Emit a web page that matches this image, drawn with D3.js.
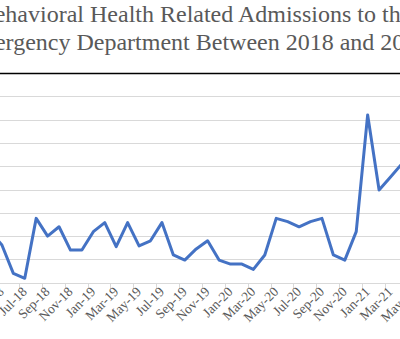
<!DOCTYPE html>
<html>
<head>
<meta charset="utf-8">
<script src="https://cdn.jsdelivr.net/npm/d3@7"></script>
<style>
  body { margin: 0; background: #fff; overflow: hidden; }
  svg { display: block; }
</style>
</head>
<body>
<div id="chart"></div>
<script>
// months shown (Apr-18 and May-21 sit just outside the visible crop)
var months = ["Apr-18","May-18","Jun-18","Jul-18","Aug-18","Sep-18","Oct-18","Nov-18","Dec-18",
              "Jan-19","Feb-19","Mar-19","Apr-19","May-19","Jun-19","Jul-19","Aug-19","Sep-19","Oct-19","Nov-19","Dec-19",
              "Jan-20","Feb-20","Mar-20","Apr-20","May-20","Jun-20","Jul-20","Aug-20","Sep-20","Oct-20","Nov-20","Dec-20",
              "Jan-21","Feb-21","Mar-21","Apr-21","May-21"];
var admissions = [22, 16.2, 4.0, 1.9, 27.6, 20.0, 24.0, 14.0, 14.0,
                  21.9, 25.8, 15.5, 25.8, 15.8, 18.0, 25.8, 11.9, 9.7, 14.5, 18.0, 9.7,
                  8.0, 8.0, 5.7, 11.9, 27.6, 26.2, 24.0, 26.2, 27.6, 11.9, 9.7, 21.9,
                  72.0, 39.8, 45.4, 51, 53];
var yTicks = [0, 10, 20, 30, 40, 50, 60, 70, 80];
var titleLines = ["Behavioral Health Related Admissions to the",
                  "Emergency Department Between 2018 and 2021"];

var W = 400, H = 339;

var svg = d3.select("#chart").append("svg")
    .attr("width", W)
    .attr("height", H);

svg.append("rect").attr("width", W).attr("height", H).attr("fill", "#fff");

var x = d3.scaleLinear().domain([0, months.length - 1]).range([-9.53, -9.53 + 11.43 * (months.length - 1)]);
var y = d3.scaleLinear().domain([0, 90]).range([282.7, 73]);

// title
svg.append("g").selectAll("text")
    .data(titleLines)
    .enter()
    .append("text")
    .attr("x", 195)
    .attr("y", function (d, i) { return 21.7 + i * 28.3; })
    .attr("text-anchor", "middle")
    .attr("font-family", "'Liberation Serif', 'Times New Roman', serif")
    .attr("font-size", 24)
    .attr("fill", "#595959")
    .text(function (d) { return d; });

// gridlines
svg.append("g").selectAll("line")
    .data(yTicks.slice(1))
    .enter()
    .append("line")
    .attr("x1", 0).attr("x2", W)
    .attr("y1", function (d) { return Math.round(y(d)) + 0.5; })
    .attr("y2", function (d) { return Math.round(y(d)) + 0.5; })
    .attr("stroke", "#d9d9d9")
    .attr("stroke-width", 1);

// dark rule on top
svg.append("line")
    .attr("x1", 0).attr("x2", W)
    .attr("y1", Math.round(y(90)) + 0.5).attr("y2", Math.round(y(90)) + 0.5)
    .attr("stroke", "#000")
    .attr("stroke-width", 1.3);

// x axis
var labelIdx = d3.range(1, months.length, 2);
var xAxis = svg.append("g").attr("transform", "translate(0," + (Math.round(y(0)) + 0.5) + ")");
xAxis.append("line").attr("x1", 0).attr("x2", W).attr("stroke", "#d9d9d9");
xAxis.selectAll("line.tick")
    .data(labelIdx)
    .enter()
    .append("line")
    .attr("class", "tick")
    .attr("x1", function (d) { return Math.round(x(d - 0.5)) + 0.5; })
    .attr("x2", function (d) { return Math.round(x(d - 0.5)) + 0.5; })
    .attr("y1", 0).attr("y2", 5)
    .attr("stroke", "#d9d9d9");
xAxis.selectAll("text")
    .data(labelIdx)
    .enter()
    .append("text")
    .attr("text-anchor", "end")
    .attr("transform", function (d) { return "translate(" + (x(d) + 3) + ",9) rotate(-45)"; })
    .attr("font-family", "'Liberation Serif', 'Times New Roman', serif")
    .attr("font-size", 13.5)
    .attr("fill", "#595959")
    .text(function (d) { return months[d]; });

// series
var line = d3.line()
    .x(function (d, i) { return x(i); })
    .y(function (d) { return y(d); });

svg.append("path")
    .datum(admissions)
    .attr("d", line)
    .attr("fill", "none")
    .attr("stroke", "#4472c4")
    .attr("stroke-width", 3)
    .attr("stroke-linejoin", "round")
    .attr("stroke-linecap", "round");
</script>
</body>
</html>
